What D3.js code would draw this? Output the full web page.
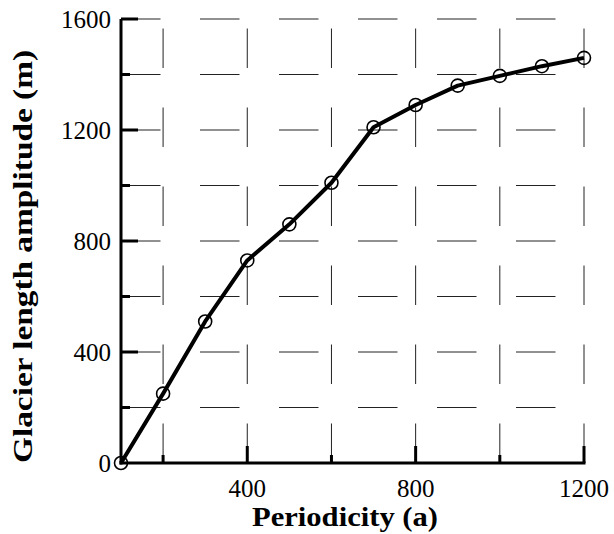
<!DOCTYPE html>
<html>
<head>
<meta charset="utf-8">
<script src="https://cdn.jsdelivr.net/npm/d3@7"></script>
<style>
  body { margin: 0; background: #fff; }
  svg { display: block; }
  text { font-family: 'Liberation Serif', serif; }
</style>
</head>
<body>
<div id="chart"></div>
<script>
// data
const periodicity = [100, 200, 300, 400, 500, 600, 700, 800, 900, 1000, 1100, 1200];
const amplitude = [0, 250, 510, 730, 860, 1010, 1210, 1290, 1360, 1395, 1430, 1460];
const xTicks = [200, 400, 600, 800, 1000, 1200];
const xLabels = [400, 800, 1200];
const yTicks = [200, 400, 600, 800, 1000, 1200, 1400, 1600];
const yLabels = [0, 400, 800, 1200, 1600];

const data = periodicity.map((p, i) => ({ p: p, a: amplitude[i] }));

const width = 614, height = 534;
const margin = { top: 19, right: 30, bottom: 71, left: 121 };
const w = width - margin.left - margin.right;
const h = height - margin.top - margin.bottom;

const svg = d3.select('#chart')
  .append('svg')
  .attr('width', width)
  .attr('height', height);

const g = svg.append('g')
  .attr('transform', `translate(${margin.left},${margin.top})`);

const x = d3.scaleLinear().domain([100, 1200]).range([0, w]);
const y = d3.scaleLinear().domain([0, 1600]).range([h, 0]);

// dashed grid
g.selectAll('.vgrid')
  .data(xTicks)
  .enter()
  .append('line')
  .attr('x1', d => x(d)).attr('x2', d => x(d))
  .attr('y1', h).attr('y2', 0)
  .attr('stroke', '#222')
  .attr('stroke-width', 1)
  .attr('stroke-dasharray', '39.5,39.5');

g.selectAll('.hgrid')
  .data(yTicks)
  .enter()
  .append('line')
  .attr('x1', 0).attr('x2', w)
  .attr('y1', d => y(d)).attr('y2', d => y(d))
  .attr('stroke', '#222')
  .attr('stroke-width', 1)
  .attr('stroke-dasharray', '39.5,39.5');

// ticks (inward)
g.selectAll('.xtick')
  .data(xTicks)
  .enter()
  .append('line')
  .attr('x1', d => x(d)).attr('x2', d => x(d))
  .attr('y1', h).attr('y2', d => h - (xLabels.includes(d) ? 17 : 8))
  .attr('stroke', '#000')
  .attr('stroke-width', 3);

g.selectAll('.ytick')
  .data(yTicks)
  .enter()
  .append('line')
  .attr('x1', 0).attr('x2', d => (yLabels.includes(d) ? 17 : 9))
  .attr('y1', d => y(d)).attr('y2', d => y(d))
  .attr('stroke', '#000')
  .attr('stroke-width', 3);

// axis lines
g.append('line')
  .attr('x1', 0).attr('x2', 0).attr('y1', h + 1.5).attr('y2', y(1600))
  .attr('stroke', '#000').attr('stroke-width', 3);
g.append('line')
  .attr('x1', -1.5).attr('x2', x(1200) + 1.5).attr('y1', h).attr('y2', h)
  .attr('stroke', '#000').attr('stroke-width', 3);

// tick labels
g.selectAll('.xlab')
  .data(xLabels)
  .enter()
  .append('text')
  .attr('x', d => x(d))
  .attr('y', h + 34)
  .attr('text-anchor', 'middle')
  .attr('font-family', 'Liberation Serif')
  .attr('font-size', 25)
  .text(d => d);

g.selectAll('.ylab')
  .data(yLabels)
  .enter()
  .append('text')
  .attr('x', -10)
  .attr('y', d => y(d))
  .attr('dy', '0.35em')
  .attr('text-anchor', 'end')
  .attr('font-family', 'Liberation Serif')
  .attr('font-size', 25)
  .text(d => d);

// line + markers
const line = d3.line()
  .x(d => x(d.p))
  .y(d => y(d.a));

g.append('path')
  .datum(data)
  .attr('fill', 'none')
  .attr('stroke', '#000')
  .attr('stroke-width', 4)
  .attr('stroke-linejoin', 'round')
  .attr('d', line);

g.selectAll('circle')
  .data(data)
  .enter()
  .append('circle')
  .attr('cx', d => x(d.p))
  .attr('cy', d => y(d.a))
  .attr('r', 6.5)
  .attr('fill', 'none')
  .attr('stroke', '#000')
  .attr('stroke-width', 1.6);

// axis titles
svg.append('text')
  .attr('x', 345)
  .attr('y', 526)
  .attr('text-anchor', 'middle')
  .attr('font-family', 'Liberation Serif')
  .attr('font-size', 28)
  .attr('font-weight', 'bold')
  .attr('textLength', 186)
  .attr('lengthAdjust', 'spacingAndGlyphs')
  .text('Periodicity (a)');

svg.append('text')
  .attr('transform', 'translate(32,256.5) rotate(-90)')
  .attr('text-anchor', 'middle')
  .attr('font-family', 'Liberation Serif')
  .attr('font-size', 28)
  .attr('font-weight', 'bold')
  .attr('textLength', 413)
  .attr('lengthAdjust', 'spacingAndGlyphs')
  .text('Glacier length amplitude (m)');
</script>
</body>
</html>
